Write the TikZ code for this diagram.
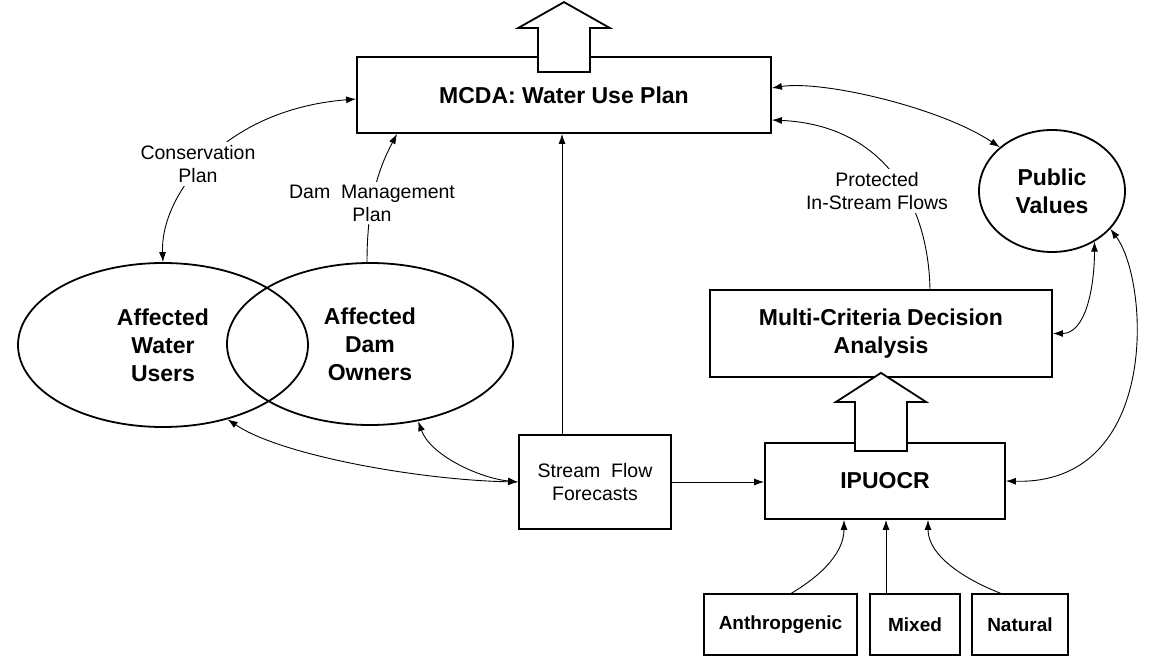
\documentclass[tikz,border=0pt]{standalone}
\usepackage{fontspec}
\setmainfont{Liberation Sans}
\usetikzlibrary{shapes.geometric,arrows.meta,calc}

\begin{document}
\begin{tikzpicture}[x=1pt,y=-1pt,
  >={Latex[length=10pt,width=7pt]},
  thickbox/.style={draw, line width=1.8pt, inner sep=0pt, align=center},
  thinbox/.style={draw, line width=1.1pt, inner sep=0pt, align=center},
  bigtxt/.style={font=\fontsize{23}{28}\selectfont\bfseries},
  midtxt/.style={font=\fontsize{19}{23}\selectfont\bfseries},
  smalltxt/.style={font=\fontsize{19.5}{23}\selectfont},
  oval/.style={ellipse, draw, line width=1.8pt, inner sep=0pt, align=center},
  conn/.style={line width=0.9pt},
  lbl/.style={fill=white, inner sep=3pt, align=center, font=\fontsize{19.5}{23}\selectfont},
  hollow/.style={draw, fill=white, line width=1.8pt, line join=miter}
]
\useasboundingbox (0,0) rectangle (1152,663);

% main nodes
\node[thickbox, bigtxt, minimum width=414pt, minimum height=76pt] (mcda) at (564,95) {MCDA: Water Use Plan};
\node[oval, bigtxt, minimum width=290pt, minimum height=164pt] (wu) at (163,345) {Affected\\Water\\Users};
\node[oval, bigtxt, minimum width=286pt, minimum height=162pt] (dam) at (370,344) {Affected\\Dam\\Owners};
\node[oval, bigtxt, minimum width=146pt, minimum height=122pt] (pv) at (1052,191) {Public\\Values};
\node[thickbox, smalltxt, minimum width=152pt, minimum height=94pt] (sff) at (595,482) {Stream~ Flow\\Forecasts};
\node[thickbox, bigtxt, minimum width=342pt, minimum height=87pt] (mcd) at (881,333.5) {Multi-Criteria Decision\\Analysis};
\node[thickbox, bigtxt, minimum width=240pt, minimum height=76pt] (ip) at (885,481) {IPUOCR};
\node[thinbox, midtxt, minimum width=153pt, minimum height=61pt] (anth) at (780.5,624.5) {Anthropgenic};
\node[thinbox, midtxt, minimum width=90pt, minimum height=61pt] (mixed) at (915,624.5) {Mixed};
\node[thinbox, midtxt, minimum width=96pt, minimum height=61pt] (nat) at (1020,624.5) {Natural};

% hollow arrows
\draw[hollow] ($(mcda.north)+(-26,16)$) -- ++(0,-44) -- ++(-20,0) -- ($(mcda.north)+(0,-54)$)
  -- ($(mcda.north)+(46,-28)$) -- ++(-20,0) -- ++(0,44) -- cycle;
\draw[hollow] ($(mcd.south)+(-26,73)$) -- ++(0,-49) -- ++(-19,0) -- ($(mcd.south)+(0,-5)$)
  -- ($(mcd.south)+(45,24)$) -- ++(-19,0) -- ++(0,49) -- cycle;

% connectors
\draw[conn,<->] (wu.north) .. controls +(-3,-63) and +(-137,11) .. ([yshift=-4pt]mcda.west);
\draw[conn,->] ([xshift=-3pt]dam.north) .. controls +(0,-63) and +(-17,32) .. ([xshift=-167pt]mcda.south);
\draw[conn,->] ([xshift=49pt]mcd.north) .. controls +(-2,-90) and +(109,5) .. ([yshift=-25pt]mcda.east);
\draw[conn,<->] ([yshift=7pt]mcda.east) .. controls +(50,-8) and +(-60,-40) .. (pv.140);
\draw[conn,<->] (mcd.east) .. controls +(33,0) and +(0,45) .. (pv.-50);
\draw[conn,<->] (ip.east) .. controls +(155,4) and +(39,52) .. (pv.-33);
\draw[conn,<->] (sff.west) .. controls +(-99,-2) and +(53,36) .. (wu.-49);
\draw[conn,<->] (sff.west) .. controls +(-39,-4) and +(12,34) .. (dam.-58);
\draw[conn,->] (sff.east) -- (sff.east -| ip.west);
\draw[conn,->] ([xshift=-33pt]sff.north) -- ([xshift=-33pt]sff.north |- mcda.south);
\draw[conn,->] ([xshift=10.5pt]anth.north) .. controls +(24,-14) and +(0,36) .. ([xshift=-41pt]ip.south);
\draw[conn,->] ([xshift=-29pt]mixed.north) -- ([xshift=-29pt]mixed.north |- ip.south);
\draw[conn,->] ([xshift=-19pt]nat.north) .. controls +(-36,-14) and +(0,36) .. ([xshift=43pt]ip.south);

% connector labels
\node[lbl] (cons) at (198,164) {Conservation\\Plan};
\node[lbl] (dmp) at (372,203) {Dam~ Management\\Plan};
\node[lbl] (pisf) at (877,191) {Protected\\In-Stream Flows};
\end{tikzpicture}
\end{document}
